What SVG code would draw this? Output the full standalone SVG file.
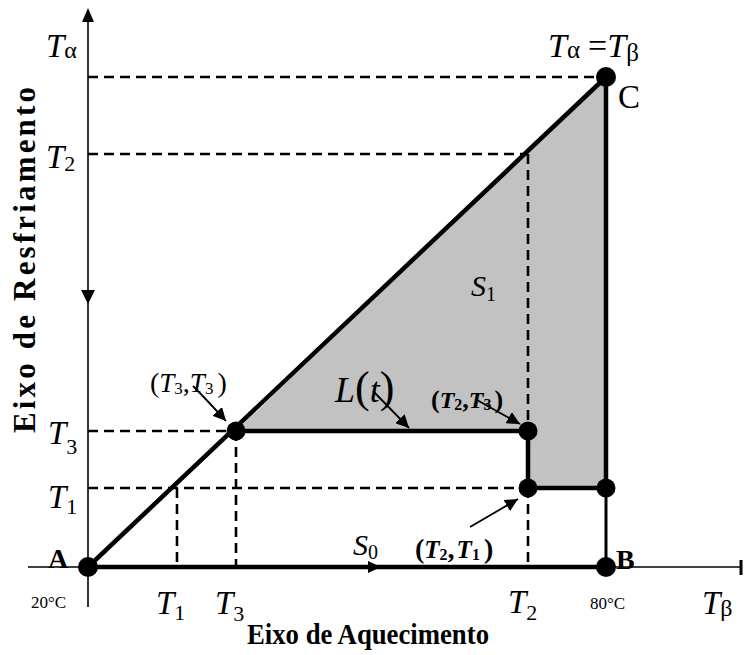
<svg xmlns="http://www.w3.org/2000/svg" width="744" height="655" viewBox="0 0 744 655">
<style>
.axis{stroke:#000;stroke-width:1.6;fill:none}
.thick{stroke:#000;stroke-width:4.5;fill:none;stroke-linecap:round}
.dash{stroke:#000;stroke-width:2.6;fill:none;stroke-dasharray:10 6}
.ann{stroke:#000;stroke-width:1.8;fill:none}
.dot{fill:#000}
.t{font-family:"Liberation Serif","Times New Roman",serif;fill:#000}
.it{font-style:italic}
.b{font-weight:bold}
</style>
<defs>
<marker id="ah" viewBox="0 0 10 10" refX="10" refY="5" markerWidth="13" markerHeight="13" markerUnits="userSpaceOnUse" orient="auto">
<path d="M0,0 L10,5 L0,10 z" fill="#000"/>
</marker>
</defs>
<rect width="744" height="655" fill="#fff"/>
<g id="shaded-region">
<polygon points="236,431 606,77 606,488 528,488 528,431" fill="#c2c2c2"/>
</g>
<g id="axes">
<line class="axis" x1="88" y1="18" x2="88" y2="607"/>
<polygon points="82,22 94,22 88,8" fill="#000"/>
<polygon points="81,290 95,290 88,304" fill="#000"/>
<line class="axis" x1="28" y1="567" x2="742" y2="567"/>
<line x1="741" y1="560" x2="741" y2="575" stroke="#000" stroke-width="3"/>
</g>
<g id="connectors">
<line class="dash" x1="88" y1="77" x2="600" y2="77"/>
<line class="dash" x1="88" y1="154" x2="528" y2="154"/>
<line class="dash" x1="88" y1="431" x2="236" y2="431"/>
<line class="dash" x1="88" y1="488" x2="528" y2="488"/>
<line class="dash" x1="177" y1="488" x2="177" y2="567"/>
<line class="dash" x1="236" y1="431" x2="236" y2="567"/>
<line class="dash" x1="528" y1="154" x2="528" y2="431"/>
<line class="dash" x1="528" y1="488" x2="528" y2="567"/>
<line class="thick" x1="88" y1="567" x2="606" y2="77"/>
<line class="thick" x1="88" y1="567" x2="606" y2="567"/>
<line class="thick" x1="236" y1="431" x2="528" y2="431"/>
<line class="thick" x1="528" y1="431" x2="528" y2="488"/>
<line class="thick" x1="528" y1="488" x2="606" y2="488"/>
<line class="thick" x1="606" y1="77" x2="606" y2="488"/>
<line x1="606" y1="488" x2="606" y2="567" stroke="#000" stroke-width="3"/>
<polygon points="368,561 381,567 368,573" fill="#000"/>
<path class="ann" d="M193,386 Q205,398 226,421" marker-end="url(#ah)"/>
<line class="ann" x1="373" y1="391" x2="409" y2="428" marker-end="url(#ah)"/>
<line class="ann" x1="477" y1="400" x2="520" y2="424" marker-end="url(#ah)"/>
<line class="ann" x1="470" y1="527" x2="518" y2="499" marker-end="url(#ah)"/>
</g>
<g id="node-A"><circle class="dot" cx="88" cy="567" r="10"/><text class="t b" x="48" y="568" font-size="28">A</text></g>
<g id="node-B"><circle class="dot" cx="606" cy="567" r="10"/><text class="t b" x="616" y="569" font-size="28">B</text></g>
<g id="node-C"><circle class="dot" cx="606" cy="77" r="10"/><text class="t" x="618" y="108" font-size="33">C</text></g>
<g id="node-T3T3"><circle class="dot" cx="236" cy="431" r="9.5"/></g>
<g id="node-T2T3"><circle class="dot" cx="528" cy="431" r="9.5"/></g>
<g id="node-T2T1"><circle class="dot" cx="528" cy="488" r="9.5"/></g>
<g id="node-80T1"><circle class="dot" cx="606" cy="488" r="9.5"/></g>
<g id="labels">
<text class="t" x="46" y="57" font-size="33"><tspan class="it">T</tspan><tspan font-size="24" dy="1">α</tspan></text>
<text class="t" x="46" y="168" font-size="33"><tspan class="it">T</tspan><tspan font-size="22" dy="3">2</tspan></text>
<text class="t" x="48" y="444" font-size="33"><tspan class="it">T</tspan><tspan font-size="22" dy="10">3</tspan></text>
<text class="t" x="48" y="508" font-size="33"><tspan class="it">T</tspan><tspan font-size="22" dy="6">1</tspan></text>
<text class="t" x="156" y="614" font-size="33"><tspan class="it">T</tspan><tspan font-size="22" dy="6">1</tspan></text>
<text class="t" x="215" y="614" font-size="33"><tspan class="it">T</tspan><tspan font-size="22" dy="7">3</tspan></text>
<text class="t" x="508" y="613" font-size="33"><tspan class="it">T</tspan><tspan font-size="22" dy="7">2</tspan></text>
<text class="t" x="702" y="614" font-size="33"><tspan class="it">T</tspan><tspan font-size="24" dy="2">β</tspan></text>
<text class="t" x="548" y="57" font-size="34"><tspan class="it">T</tspan><tspan font-size="25" dy="1">α</tspan><tspan dy="-1" dx="8">=</tspan><tspan class="it">T</tspan><tspan font-size="25" dy="4">β</tspan></text>
<text class="t" x="31" y="608" font-size="17">20°C</text>
<text class="t" x="590" y="609" font-size="17">80°C</text>
<text class="t it" x="471" y="296" font-size="30">S<tspan font-size="20" dy="5" font-style="normal">1</tspan></text>
<text class="t it" x="353" y="555" font-size="30">S<tspan font-size="20" dy="4" font-style="normal">0</tspan></text>
<text class="t" x="335" y="402" font-size="36"><tspan class="it">L</tspan><tspan font-size="44">(</tspan><tspan class="it">t</tspan><tspan font-size="44">)</tspan></text>
<text class="t" x="150" y="392" font-size="28">(<tspan class="it" font-size="27">T</tspan><tspan font-size="17" dy="2">3</tspan><tspan dy="-2">,</tspan><tspan class="it" font-size="27">T</tspan><tspan font-size="17" dy="2">3</tspan><tspan dy="-2" dx="4">)</tspan></text>
<text class="t b" x="431" y="408" font-size="26">(<tspan class="it" font-size="24">T</tspan><tspan font-size="16" dy="2">2</tspan><tspan dy="-2">,</tspan><tspan class="it" font-size="24">T</tspan><tspan font-size="16" dy="2">3</tspan><tspan dy="-2" dx="3">)</tspan></text>
<text class="t b" x="415" y="558" font-size="28">(<tspan class="it" font-size="25">T</tspan><tspan font-size="16" dy="2">2</tspan><tspan dy="-2">,</tspan><tspan class="it" font-size="25" dx="2">T</tspan><tspan font-size="16" dy="2">1</tspan><tspan dy="-2" dx="4">)</tspan></text>
<text class="t b" x="247" y="644" font-size="29" textLength="242" lengthAdjust="spacingAndGlyphs">Eixo de Aquecimento</text>
<text class="t b" transform="translate(35,433) rotate(-90)" x="0" y="0" font-size="31" textLength="346" lengthAdjust="spacing">Eixo de Resfriamento</text>
</g>
</svg>
